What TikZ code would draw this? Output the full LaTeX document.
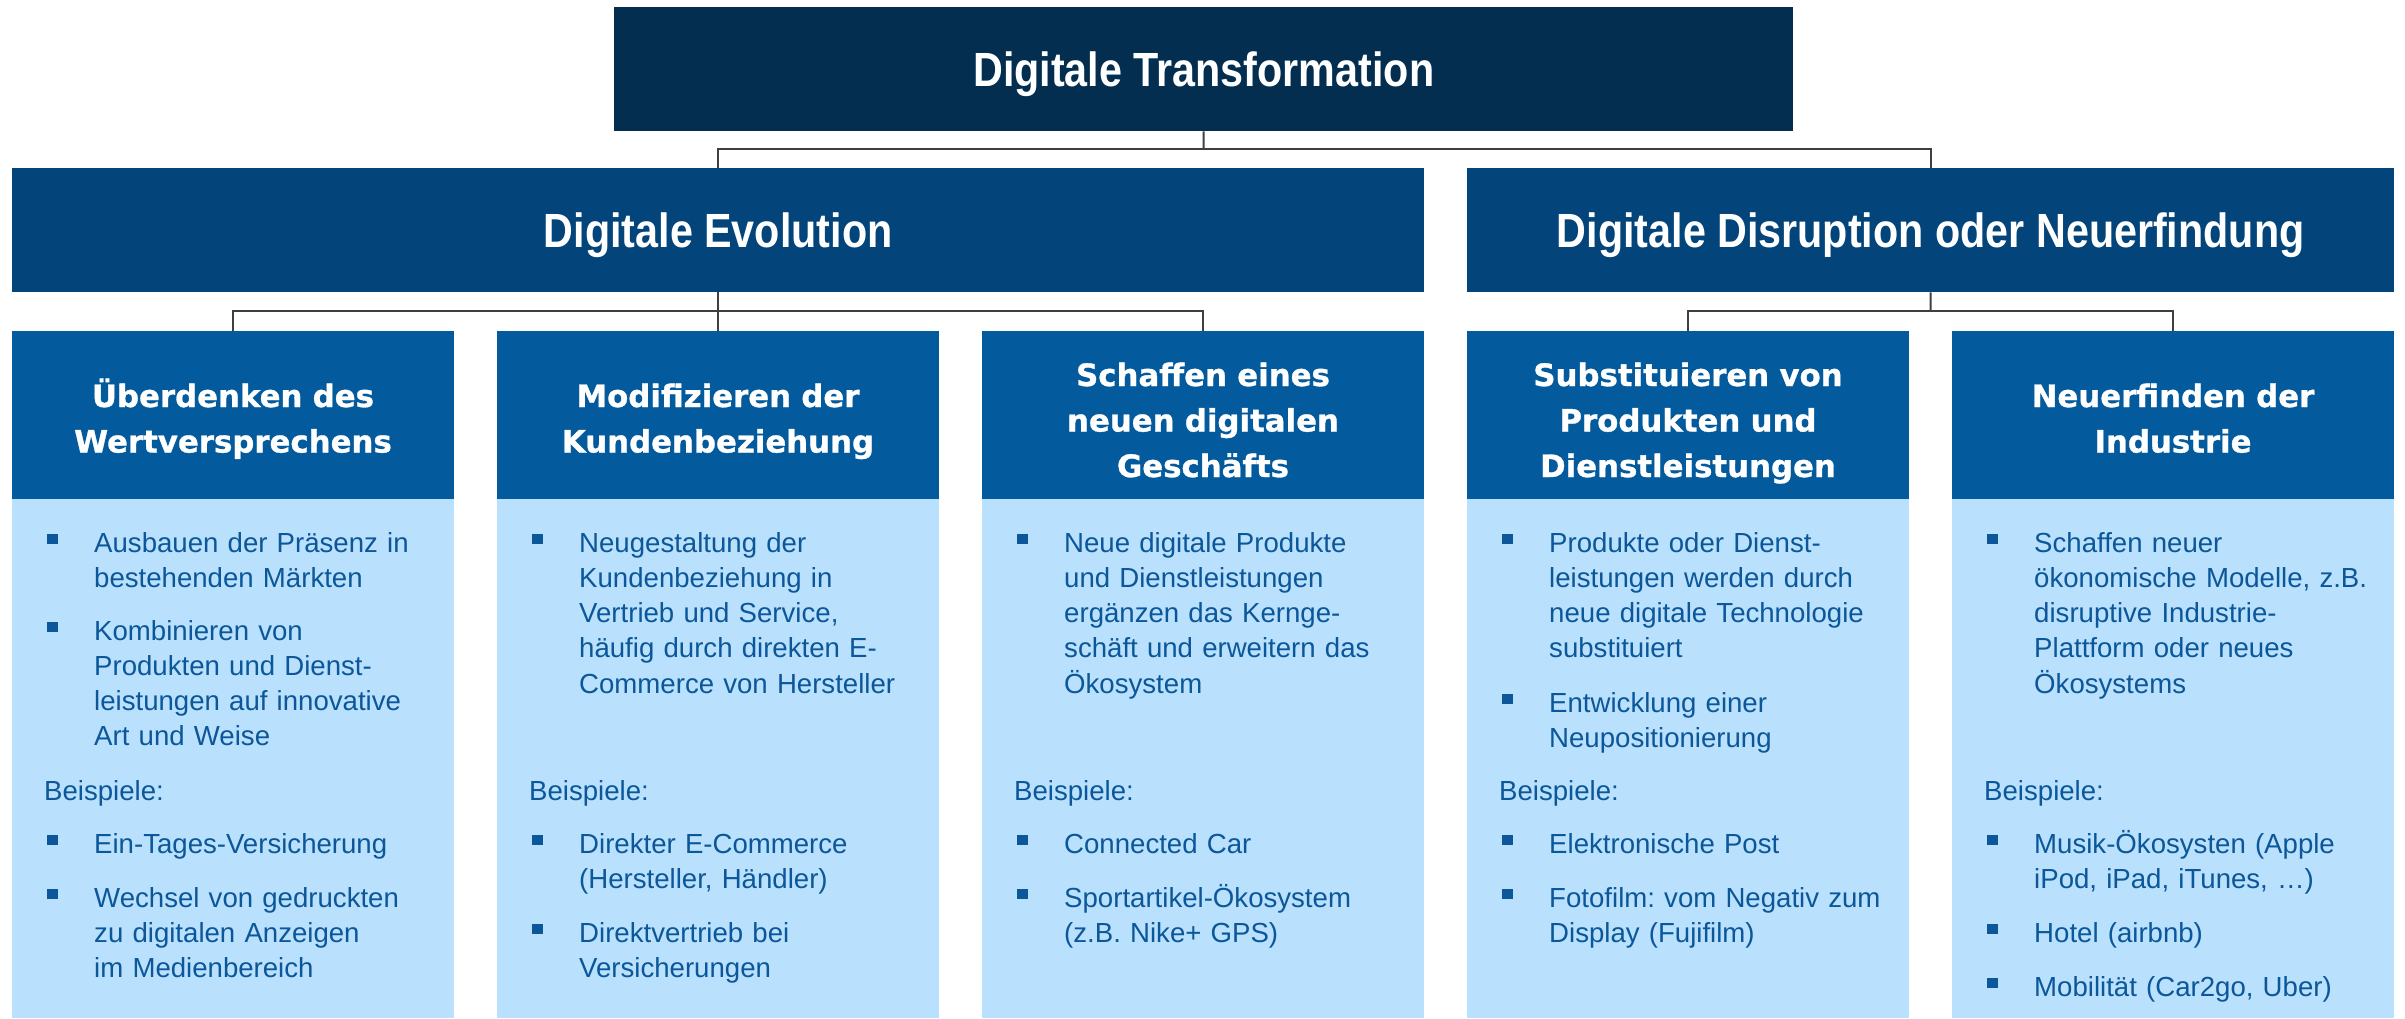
\documentclass[tikz,border=0pt]{standalone}
\usepackage{fontspec}
\setmainfont{Liberation Sans}
\newfontfamily\condfont[FakeStretch=0.86]{Liberation Sans}
\newfontfamily\wideheadfont[FakeBold=1]{DejaVu Sans}
\definecolor{topfill}{HTML}{032E4F}
\definecolor{midfill}{HTML}{03447A}
\definecolor{headfill}{HTML}{035A9D}
\definecolor{bodyfill}{HTML}{B9E0FC}
\definecolor{txtblue}{HTML}{0B5799}
\definecolor{linegray}{HTML}{3F3F3F}
\frenchspacing
\tikzset{
  titlebox/.style={inner sep=0pt, anchor=north west, text=white,
    font=\condfont\bfseries\fontsize{48}{56}\selectfont,
    text height=34.4pt, text depth=0pt},
  topbox/.style={titlebox, fill=topfill},
  midbox/.style={titlebox, fill=midfill},
  headbox/.style={inner sep=0pt, anchor=north west, fill=headfill,
    minimum width=442pt, minimum height=168pt},
  bodybox/.style={inner sep=0pt, anchor=north west, fill=bodyfill,
    minimum width=442pt, minimum height=519pt},
  headtxt/.style={inner sep=0pt, anchor=base, text width=440pt, align=center,
    text=white, font=\wideheadfont\bfseries\fontsize{30.8}{45.5}\selectfont},
  bodytxt/.style={inner sep=0pt, anchor=base west, text width=370pt, align=left,
    text=txtblue, font=\frenchspacing\fontsize{27.6}{35.3}\selectfont},
  bulsq/.style={inner sep=0pt, fill=txtblue, minimum size=10.5pt},
  conn/.style={draw=linegray, line width=2pt}
}
\newcommand\bitem[4]{%
  \node[bulsq] (#1b) at ({#2+40.5},{#3-13}) {};
  \node[bodytxt] (#1) at ({#2+82},#3) {#4};}
\newcommand\bsplabel[3]{%
  \node[bodytxt] (#1) at ({#2+32},#3) {Beispiele:};}
\begin{document}
\begin{tikzpicture}[x=1pt,y=-1pt]
\fill[white] (0,0) rectangle (2405,1018);
\useasboundingbox (0,0) rectangle (2405,1018);

% top level
\node[topbox, minimum width=1179pt, minimum height=124pt] (top) at (614,7) {Digitale Transformation};
\node[midbox, minimum width=1412pt, minimum height=124pt] (evo) at (12,168) {Digitale Evolution};
\node[midbox, minimum width=927pt, minimum height=124pt] (dis) at (1467,168) {Digitale Disruption oder Neuerfindung};

% column headers and bodies
\node[headbox] (h1) at (12,331) {};
\node[headbox] (h2) at (497,331) {};
\node[headbox] (h3) at (982,331) {};
\node[headbox] (h4) at (1467,331) {};
\node[headbox] (h5) at (1952,331) {};
\node[bodybox] (b1) at (12,499) {};
\node[bodybox] (b2) at (497,499) {};
\node[bodybox] (b3) at (982,499) {};
\node[bodybox] (b4) at (1467,499) {};
\node[bodybox] (b5) at (1952,499) {};

\node[headtxt] (h1t) at (233,407) {Überdenken des\\Wertversprechens};
\node[headtxt] (h2t) at (718,407) {Modifizieren der\\Kundenbeziehung};
\node[headtxt] (h3t) at (1203,386) {Schaffen eines\\neuen digitalen\\Geschäfts};
\node[headtxt] (h4t) at (1688,386) {Substituieren von\\Produkten und\\Dienstleistungen};
\node[headtxt] (h5t) at (2173,407) {Neuerfinden der\\Industrie};

% connectors
\coordinate (jt) at (1203.5,149);
\draw[conn] (top.south) -- (jt);
\draw[conn] (evo.north) |- (jt) -| (dis.north);
\coordinate (je) at (718,311);
\draw[conn] (evo.south) -- (h2.north);
\draw[conn] (h1.north) |- (je) -| (h3.north);
\coordinate (jd) at (1930.5,311);
\draw[conn] (dis.south) -- (jd);
\draw[conn] (h4.north) |- (jd) -| (h5.north);

% column 1
\bitem{c1i1}{12}{552}{Ausbauen der Präsenz in\\bestehenden Märkten}
\bitem{c1i2}{12}{640}{Kombinieren von\\Produkten und Dienst-\\leistungen auf innovative\\Art und Weise}
\bsplabel{c1bsp}{12}{800}
\bitem{c1e1}{12}{853}{Ein-Tages-Versicherung}
\bitem{c1e2}{12}{907}{Wechsel von gedruckten\\zu digitalen Anzeigen\\im Medienbereich}

% column 2
\bitem{c2i1}{497}{552}{Neugestaltung der\\Kundenbeziehung in\\Vertrieb und Service,\\häufig durch direkten E-\\Commerce von Hersteller}
\bsplabel{c2bsp}{497}{800}
\bitem{c2e1}{497}{853}{Direkter E-Commerce\\(Hersteller, Händler)}
\bitem{c2e2}{497}{942}{Direktvertrieb bei\\Versicherungen}

% column 3
\bitem{c3i1}{982}{552}{Neue digitale Produkte\\und Dienstleistungen\\ergänzen das Kernge-\\schäft und erweitern das\\Ökosystem}
\bsplabel{c3bsp}{982}{800}
\bitem{c3e1}{982}{853}{Connected Car}
\bitem{c3e2}{982}{907}{Sportartikel-Ökosystem\\(z.B. Nike+ GPS)}

% column 4
\bitem{c4i1}{1467}{552}{Produkte oder Dienst-\\leistungen werden durch\\neue digitale Technologie\\substituiert}
\bitem{c4i2}{1467}{712}{Entwicklung einer\\Neupositionierung}
\bsplabel{c4bsp}{1467}{800}
\bitem{c4e1}{1467}{853}{Elektronische Post}
\bitem{c4e2}{1467}{907}{Fotofilm: vom Negativ zum\\Display (Fujifilm)}

% column 5
\bitem{c5i1}{1952}{552}{Schaffen neuer\\ökonomische Modelle, z.B.\\disruptive Industrie-\\Plattform oder neues\\Ökosystems}
\bsplabel{c5bsp}{1952}{800}
\bitem{c5e1}{1952}{853}{Musik-Ökosysten (Apple\\iPod, iPad, iTunes, …)}
\bitem{c5e2}{1952}{942}{Hotel (airbnb)}
\bitem{c5e3}{1952}{996}{Mobilität (Car2go, Uber)}
\end{tikzpicture}
\end{document}
